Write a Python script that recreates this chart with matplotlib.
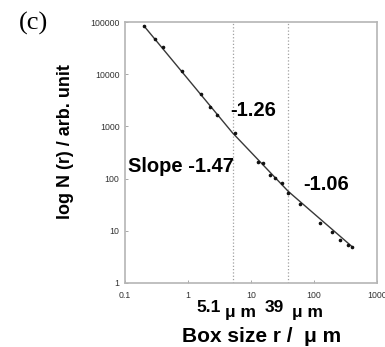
import numpy as np
import matplotlib
matplotlib.use("Agg")
import matplotlib.pyplot as plt
from matplotlib.ticker import FixedLocator, FuncFormatter, NullLocator

plt.rcParams['font.family'] = ['Liberation Sans', 'DejaVu Sans']

# box-counting data
box_size = [0.20, 0.30, 0.40, 0.80, 1.6, 2.2, 2.9, 5.5, 12.9, 15.5, 20, 24, 31,
            38.6, 60, 124, 193, 259, 347, 401]
count = [84000, 47000, 33000, 11500, 4200, 2350, 1650, 740, 205, 195, 117, 103, 82,
         53, 32, 14.1, 9.5, 6.7, 5.3, 5.0]

# piecewise fit (slopes -1.47, -1.26, -1.06)
fit_x = [0.2, 5.1, 39, 400]
fit_y = [84000, 750, 57, 5.0]
breaks = [5.1, 39]
slope_labels = ["Slope -1.47", "-1.26", "-1.06"]

W, H = 385, 347
fig = plt.figure(figsize=(W / 100, H / 100), dpi=100)
ax = fig.add_axes([125 / W, 1 - 283 / H, (377 - 125) / W, (283 - 22) / H])

ax.set_xscale('log')
ax.set_yscale('log')
ax.set_xlim(0.1, 1000)
ax.set_ylim(1, 100000)

for b in breaks:
    ax.axvline(b, color='#a0a0a0', ls=':', lw=0.9, zorder=1)

ax.plot(fit_x, fit_y, color='#383838', lw=1.0, zorder=2)
ax.plot(box_size, count, ls='none', marker='o', ms=1.6, color='#111111', zorder=3)

ax.xaxis.set_major_locator(FixedLocator([0.1, 1, 10, 100, 1000]))
ax.yaxis.set_major_locator(FixedLocator([1, 10, 100, 1000, 10000, 100000]))
ax.xaxis.set_minor_locator(NullLocator())
ax.yaxis.set_minor_locator(NullLocator())
fmt = FuncFormatter(lambda v, p: f"{v:g}")
ax.xaxis.set_major_formatter(fmt)
ax.yaxis.set_major_formatter(fmt)
ax.tick_params(direction='in', length=2.5, width=0.6, color='#999999',
               labelsize=6.3, labelcolor='#333333')
ax.tick_params(axis='x', pad=6)
ax.tick_params(axis='y', pad=4)
for s in ax.spines.values():
    s.set_color('#b5b5b5')
    s.set_linewidth(1.2)


def px(x, y):
    return x / W, 1 - y / H


bold = dict(fontweight='bold', color='black')
fig.text(*px(128, 167), slope_labels[0], fontsize=14.5, ha='left', va='center', **bold)
fig.text(*px(230, 110), slope_labels[1], fontsize=14.5, ha='left', va='center', **bold)
fig.text(*px(303, 184), slope_labels[2], fontsize=14.5, ha='left', va='center', **bold)

fig.text(*px(196, 312), "5.1", fontsize=12.5, ha='left', va='baseline', **bold)
fig.text(*px(225, 317), "μ m", fontsize=12.5, ha='left', va='baseline', **bold)
fig.text(*px(265, 312), "39", fontsize=12.5, ha='left', va='baseline', **bold)
fig.text(*px(292, 317), "μ m", fontsize=12.5, ha='left', va='baseline', **bold)

fig.text(*px(262, 342), "Box size r /  μ m", fontsize=15, ha='center', va='baseline', **bold)
fig.text(*px(66, 142), "log N (r) / arb. unit", fontsize=13, rotation=90,
         ha='center', va='center', **bold)
fig.text(*px(34, 23), "(c)", fontsize=19, family='Liberation Serif',
         ha='center', va='center', color='black')

fig.savefig('out.png', dpi=100)
